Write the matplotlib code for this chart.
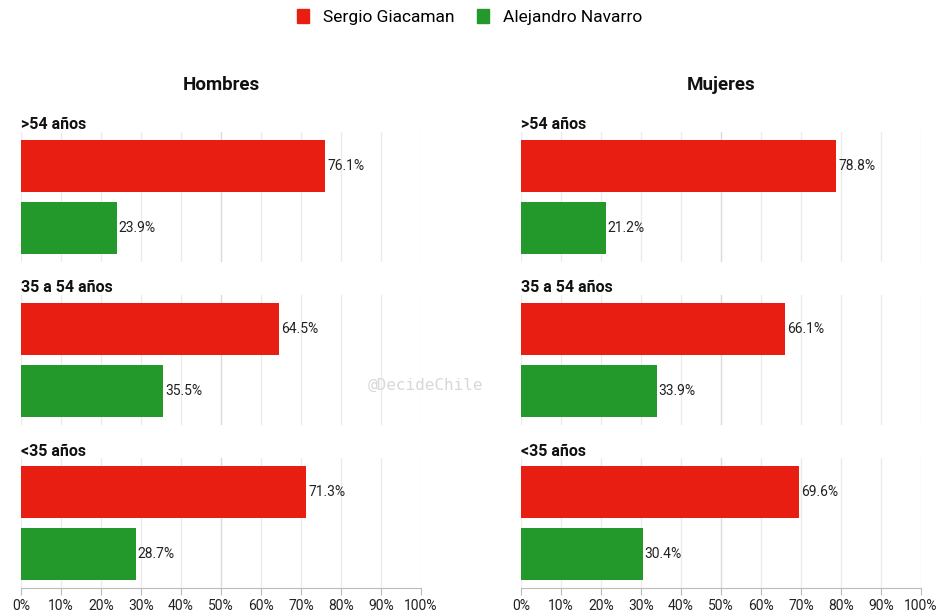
import matplotlib.pyplot as plt
from matplotlib.patches import Patch

plt.rcParams['font.family'] = ['Roboto', 'DejaVu Sans']

candidates = ["Sergio Giacaman", "Alejandro Navarro"]
colors = ["#e91e12", "#22992a"]
age_groups = [">54 años", "35 a 54 años", "<35 años"]
panels = ["Hombres", "Mujeres"]

# percent per panel, per age group: [Giacaman, Navarro]
hombres = [[76.1, 23.9], [64.5, 35.5], [71.3, 28.7]]
mujeres = [[78.8, 21.2], [66.1, 33.9], [69.6, 30.4]]
values = [hombres, mujeres]

ticks = list(range(0, 101, 10))
tick_labels = [f"{t}%" for t in ticks]

W, H = 939, 612
fig = plt.figure(figsize=(W / 100, H / 100), dpi=100)

panel_x = [21, 521]
panel_w = 400
row_top = [132, 295, 458]
row_h = 130

for p, px in enumerate(panel_x):
    fig.text((px + panel_w / 2) / W, 1 - 85 / H, panels[p], ha="center", va="center",
             fontsize=13.5, fontweight="bold", color="#111111")
    for r, top in enumerate(row_top):
        ax = fig.add_axes([px / W, 1 - (top + row_h) / H, panel_w / W, row_h / H])
        vals = values[p][r]
        ax.barh([0, 1], vals, height=0.839, color=colors, zorder=3)
        for i, v in enumerate(vals):
            ax.text(v + 0.5, i, f"{v}%", va="center", ha="left", fontsize=10, color="#222222", zorder=4)
        ax.set_xlim(0, 100)
        ax.set_ylim(1.548, -0.548)
        ax.set_yticks([])
        ax.set_xticks(ticks)
        for t in ticks:
            ax.axvline(t, color="#dadada" if t == 50 else "#ebebeb", lw=1, zorder=1)
        for s in ["top", "right", "left"]:
            ax.spines[s].set_visible(False)
        if r == 2:
            ax.spines["bottom"].set_color("#bbbbbb")
            ax.set_xticklabels(tick_labels, fontsize=10, color="#222222")
            ax.tick_params(axis="x", length=5, color="#bbbbbb", pad=3)
        else:
            ax.spines["bottom"].set_visible(False)
            ax.tick_params(axis="x", length=0, labelbottom=False)
        fig.text(px / W, 1 - (top - 7) / H, age_groups[r], ha="left", va="center",
                 fontsize=11.5, fontweight="bold", color="#111111")

fig.text(425 / W, 1 - 385 / H, "@DecideChile", ha="center", va="center",
         fontsize=11.5, family="DejaVu Sans Mono", color="#d8d8d8")

handles = [Patch(color=c, label=n) for c, n in zip(colors, candidates)]
fig.legend(handles=handles, loc="center", bbox_to_anchor=(0.5, 1 - 17 / H), ncol=2,
           frameon=False, fontsize=12.5, handlelength=0.7, handleheight=0.9,
           handletextpad=0.8, columnspacing=1.3)

fig.savefig("out.png", dpi=100)
